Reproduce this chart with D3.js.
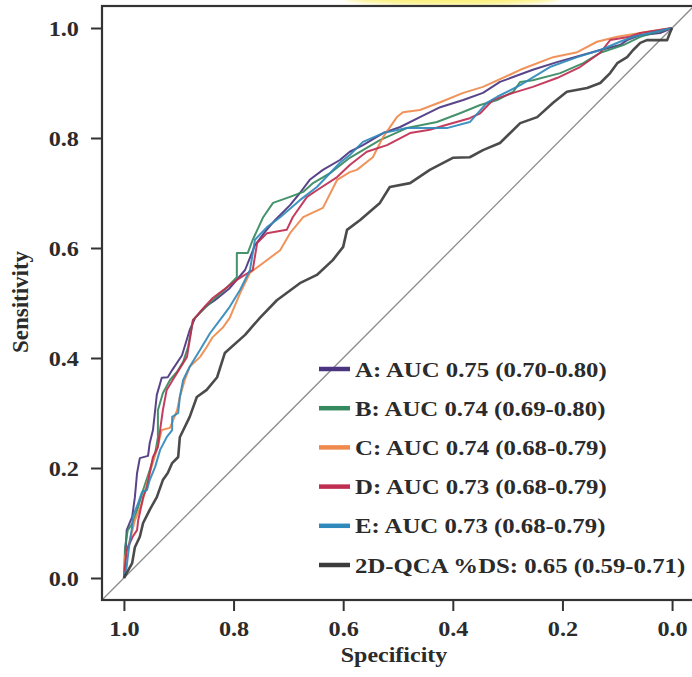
<!DOCTYPE html>
<html>
<head>
<meta charset="utf-8">
<script src="https://cdn.jsdelivr.net/npm/d3@7"></script>
<style>
  body { margin: 0; background: #fff; }
  svg { display: block; }
  text { font-family: "Liberation Serif", "Times New Roman", serif; font-weight: bold; fill: #2b2b2b; }
</style>
</head>
<body>
<svg id="chart" width="692" height="677"></svg>
<script>
// [specificity, sensitivity] pairs
var curveA = [[1,0],[0.998,0.024],[0.995,0.087],[0.985,0.111],[0.980,0.147],[0.976,0.191],[0.971,0.218],[0.956,0.222],[0.953,0.245],[0.947,0.269],[0.940,0.333],[0.931,0.364],[0.920,0.365],[0.912,0.378],[0.894,0.405],[0.880,0.451],[0.870,0.473],[0.852,0.493],[0.834,0.505],[0.807,0.527],[0.779,0.560],[0.761,0.605],[0.743,0.629],[0.724,0.651],[0.697,0.678],[0.679,0.700],[0.661,0.724],[0.637,0.742],[0.606,0.760],[0.588,0.775],[0.564,0.787],[0.527,0.809],[0.496,0.820],[0.460,0.838],[0.423,0.856],[0.381,0.869],[0.345,0.882],[0.314,0.902],[0.254,0.924],[0.210,0.938],[0.131,0.960],[0.095,0.969],[0.082,0.978],[0.058,0.987],[0.022,0.991],[0,1]];
var curveB = [[1,0],[0.998,0.056],[0.993,0.087],[0.984,0.100],[0.974,0.129],[0.965,0.160],[0.953,0.196],[0.943,0.227],[0.938,0.256],[0.938,0.305],[0.929,0.336],[0.916,0.360],[0.903,0.375],[0.892,0.393],[0.883,0.420],[0.874,0.469],[0.861,0.482],[0.838,0.505],[0.816,0.524],[0.794,0.547],[0.794,0.591],[0.774,0.591],[0.765,0.615],[0.746,0.656],[0.728,0.682],[0.697,0.693],[0.673,0.702],[0.655,0.718],[0.624,0.736],[0.588,0.764],[0.533,0.796],[0.484,0.818],[0.429,0.829],[0.387,0.845],[0.350,0.860],[0.319,0.869],[0.290,0.884],[0.277,0.902],[0.254,0.905],[0.204,0.918],[0.162,0.936],[0.131,0.955],[0.089,0.969],[0.058,0.984],[0.035,0.991],[0,1]];
var curveC = [[1,0],[0.998,0.038],[0.989,0.069],[0.980,0.105],[0.967,0.136],[0.953,0.191],[0.940,0.233],[0.931,0.269],[0.916,0.273],[0.903,0.305],[0.898,0.329],[0.889,0.360],[0.880,0.384],[0.861,0.402],[0.849,0.420],[0.838,0.438],[0.819,0.456],[0.807,0.473],[0.788,0.518],[0.770,0.555],[0.743,0.575],[0.715,0.596],[0.697,0.627],[0.673,0.656],[0.637,0.673],[0.611,0.724],[0.588,0.738],[0.575,0.742],[0.546,0.765],[0.527,0.802],[0.502,0.838],[0.491,0.847],[0.460,0.851],[0.423,0.865],[0.381,0.882],[0.345,0.893],[0.296,0.915],[0.277,0.924],[0.217,0.947],[0.173,0.956],[0.137,0.975],[0.100,0.984],[0.058,0.991],[0,1]];
var curveD = [[1,0],[0.995,0.051],[0.989,0.064],[0.984,0.075],[0.976,0.087],[0.974,0.105],[0.971,0.118],[0.965,0.147],[0.958,0.165],[0.953,0.191],[0.947,0.220],[0.938,0.238],[0.934,0.269],[0.929,0.305],[0.922,0.342],[0.911,0.360],[0.885,0.402],[0.874,0.469],[0.861,0.484],[0.838,0.509],[0.794,0.542],[0.765,0.560],[0.757,0.609],[0.739,0.627],[0.703,0.633],[0.692,0.656],[0.666,0.693],[0.648,0.705],[0.611,0.729],[0.588,0.751],[0.557,0.775],[0.520,0.787],[0.478,0.809],[0.442,0.815],[0.411,0.824],[0.369,0.836],[0.350,0.845],[0.327,0.869],[0.290,0.882],[0.254,0.893],[0.210,0.909],[0.168,0.929],[0.131,0.955],[0.113,0.978],[0.077,0.984],[0.058,0.991],[0,1]];
var curveE = [[1,0],[0.995,0.020],[0.993,0.038],[0.989,0.069],[0.985,0.093],[0.984,0.111],[0.974,0.136],[0.967,0.156],[0.958,0.160],[0.953,0.178],[0.943,0.202],[0.934,0.233],[0.922,0.256],[0.912,0.269],[0.912,0.293],[0.901,0.300],[0.898,0.329],[0.892,0.360],[0.880,0.384],[0.861,0.415],[0.843,0.445],[0.825,0.469],[0.807,0.493],[0.788,0.524],[0.770,0.560],[0.761,0.615],[0.739,0.638],[0.715,0.656],[0.679,0.687],[0.648,0.711],[0.606,0.755],[0.588,0.769],[0.564,0.793],[0.527,0.809],[0.484,0.818],[0.442,0.818],[0.411,0.818],[0.369,0.829],[0.338,0.864],[0.319,0.875],[0.277,0.896],[0.223,0.929],[0.173,0.947],[0.131,0.960],[0.095,0.975],[0.071,0.984],[0.040,0.991],[0,1]];
var curveQCA = [[1,0],[0.995,0.009],[0.985,0.027],[0.980,0.056],[0.971,0.075],[0.965,0.100],[0.953,0.124],[0.940,0.147],[0.929,0.178],[0.920,0.191],[0.912,0.209],[0.901,0.220],[0.898,0.256],[0.880,0.293],[0.867,0.329],[0.849,0.342],[0.830,0.365],[0.816,0.409],[0.779,0.442],[0.752,0.473],[0.721,0.505],[0.679,0.536],[0.648,0.551],[0.619,0.578],[0.600,0.602],[0.593,0.633],[0.569,0.651],[0.533,0.682],[0.515,0.711],[0.478,0.718],[0.442,0.742],[0.400,0.764],[0.369,0.765],[0.345,0.778],[0.314,0.791],[0.277,0.827],[0.246,0.838],[0.217,0.864],[0.192,0.884],[0.155,0.891],[0.131,0.900],[0.113,0.918],[0.100,0.936],[0.082,0.947],[0.071,0.960],[0.058,0.973],[0.046,0.978],[0.009,0.978],[0.004,0.991],[0,1]];

var seriesNames = ["A", "B", "C", "D", "E", "2D-QCA %DS"];
var legendLabels = ["A: AUC 0.75 (0.70-0.80)", "B: AUC 0.74 (0.69-0.80)", "C: AUC 0.74 (0.68-0.79)",
                    "D: AUC 0.73 (0.68-0.79)", "E: AUC 0.73 (0.68-0.79)", "2D-QCA %DS: 0.65 (0.59-0.71)"];
var seriesColors = ["#4b3480", "#35895e", "#ef8a4c", "#bf2d50", "#3089bb", "#3c3c3c"];
var tickValues = [0, 0.2, 0.4, 0.6, 0.8, 1.0];

var curves = [curveA, curveB, curveC, curveD, curveE, curveQCA];

var svg = d3.select("#chart");

// yellow highlighter mark at top of the photo
var defs = svg.append("defs");
defs.append("filter").attr("id", "soft")
    .append("feGaussianBlur").attr("stdDeviation", 2.5);
svg.append("ellipse")
    .attr("cx", 452).attr("cy", -3)
    .attr("rx", 108).attr("ry", 8)
    .attr("fill", "#fbf07a")
    .attr("filter", "url(#soft)");

var x = d3.scaleLinear().domain([1.04, -0.04]).range([102, 694]);
var y = d3.scaleLinear().domain([-0.04, 1.04]).range([600, 6]);

defs.append("clipPath").attr("id", "plotclip")
    .append("rect")
    .attr("x", x(1.04)).attr("y", y(1.04))
    .attr("width", x(-0.04) - x(1.04)).attr("height", y(-0.04) - y(1.04));

// diagonal reference line
svg.append("line")
    .attr("clip-path", "url(#plotclip)")
    .attr("x1", x(1.04)).attr("y1", y(-0.04))
    .attr("x2", x(-0.04)).attr("y2", y(1.04))
    .attr("stroke", "#8c8c8c")
    .attr("stroke-width", 1.3);

var line = d3.line()
    .x(function (d) { return x(d[0]); })
    .y(function (d) { return y(d[1]); });

svg.append("g").attr("clip-path", "url(#plotclip)")
    .selectAll("path")
    .data(curves)
    .enter()
    .append("path")
    .attr("d", line)
    .attr("fill", "none")
    .attr("stroke", function (d, i) { return seriesColors[i]; })
    .attr("stroke-width", function (d, i) { return i == 5 ? 2.6 : 2; })
    .attr("stroke-linejoin", "round")
    .attr("opacity", 0.92);

// box
svg.append("rect")
    .attr("x", x(1.04)).attr("y", y(1.04))
    .attr("width", x(-0.04) - x(1.04)).attr("height", y(-0.04) - y(1.04))
    .attr("fill", "none")
    .attr("stroke", "#333")
    .attr("stroke-width", 2.2);

var fmt = d3.format(".1f");

var yAxis = svg.append("g")
    .attr("transform", "translate(" + x(1.04) + ",0)")
    .call(d3.axisLeft(y).tickValues(tickValues).tickFormat(fmt).tickSize(11).tickPadding(10));
var xAxis = svg.append("g")
    .attr("transform", "translate(0," + y(-0.04) + ")")
    .call(d3.axisBottom(x).tickValues(tickValues).tickFormat(fmt).tickSize(11).tickPadding(9));

svg.selectAll(".domain").remove();
svg.selectAll(".tick line").attr("stroke", "#333").attr("stroke-width", 2);
svg.selectAll(".tick text")
    .attr("fill", "#2b2b2b")
    .attr("transform", "scale(1.1,1)")
    .style("font-family", "'Liberation Serif', serif")
    .style("font-weight", "bold")
    .style("font-size", "22px");

svg.append("text")
    .attr("transform", "translate(28,302) rotate(-90)")
    .attr("text-anchor", "middle")
    .style("font-size", "23px")
    .text("Sensitivity");

svg.append("text")
    .attr("transform", "translate(394,662) scale(1.09,1)")
    .attr("text-anchor", "middle")
    .style("font-size", "22px")
    .text("Specificity");

// legend
var legend = svg.append("g");
var rows = legend.selectAll("g")
    .data(seriesNames)
    .enter()
    .append("g")
    .attr("transform", function (d, i) { return "translate(0," + (369 + i * 39.2) + ")"; });

rows.append("line")
    .attr("x1", 319).attr("x2", 350)
    .attr("y1", 0).attr("y2", 0)
    .attr("stroke", function (d, i) { return seriesColors[i]; })
    .attr("stroke-width", 4.5);

rows.append("text")
    .attr("transform", "translate(355,7.5) scale(1.18,1)")
    .style("font-size", "21px")
    .text(function (d, i) { return legendLabels[i]; });
</script>
</body>
</html>
